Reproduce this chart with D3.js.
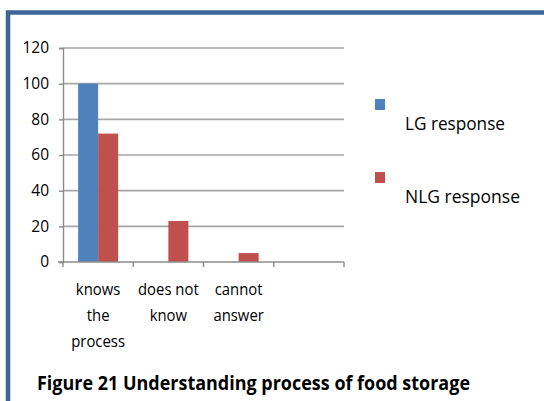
<!DOCTYPE html>
<html>
<head>
<meta charset="utf-8">
<script src="https://cdn.jsdelivr.net/npm/d3@7"></script>
<style>
  body { margin: 0; background: #fff; }
  text { font-family: "Open Sans", "Noto Sans", sans-serif; fill: #000; }
</style>
</head>
<body>
<div id="chart"></div>
<script>
// data
var categories = ["knows the process", "does not know", "cannot answer", ""];
var catLines = [["knows", "the", "process"], ["does not", "know"], ["cannot", "answer"], []];
var seriesNames = ["LG response", "NLG response"];
var lgValues = [100, null, null, null];
var nlgValues = [72, 23, 5, null];
var yTicks = [0, 20, 40, 60, 80, 100, 120];
var colors = ["#4f81bd", "#c0504d"];

var all_width = 544, all_height = 401;
var margin = {top: 48, left: 63, plotW: 281, plotH: 214};

var svg = d3.select("#chart").append("svg")
  .attr("width", all_width)
  .attr("height", all_height);

// frame
svg.append("path")
  .attr("d", "M8," + all_height + " L8,12.5 L" + all_width + ",12.5")
  .attr("fill", "none")
  .attr("stroke", "#3d6598")
  .attr("stroke-width", 4.5);

var g = svg.append("g")
  .attr("transform", "translate(" + margin.left + "," + margin.top + ")");

var x = d3.scaleBand().domain(categories.map(function(d, i) { return i; }))
  .range([0, margin.plotW]).paddingInner(0).paddingOuter(0);
var y = d3.scaleLinear().domain([0, 120]).range([margin.plotH, 0]);

// gridlines
g.selectAll(".grid").data(yTicks.filter(function(d) { return d > 0; }))
  .enter().append("line")
    .attr("x1", 0).attr("x2", margin.plotW)
    .attr("y1", function(d) { return y(d); })
    .attr("y2", function(d) { return y(d); })
    .attr("stroke", "#a6a6a6")
    .attr("stroke-width", 1.6);

// y axis
var yAxis = g.append("g")
  .call(d3.axisLeft(y).tickValues(yTicks).tickSize(4).tickPadding(10));
yAxis.selectAll("path, line").attr("stroke", "#8c8c8c").attr("stroke-width", 1.4);
yAxis.selectAll("text").style("font-size", "15.5px").attr("fill", "#000")
  .style("font-family", "'Open Sans', sans-serif");

// bars
var barW = 20;
var series = [lgValues, nlgValues];
series.forEach(function(vals, s) {
  g.selectAll(".bar" + s).data(vals.map(function(v, i) { return {i: i, v: v}; }).filter(function(d) { return d.v != null; }))
    .enter().append("rect")
      .attr("x", function(d) { return x(d.i) + x.bandwidth() / 2 - barW + s * barW; })
      .attr("width", barW)
      .attr("y", function(d) { return y(d.v); })
      .attr("height", function(d) { return y(0) - y(d.v); })
      .attr("fill", colors[s]);
});

// x axis
var xAxisG = g.append("g").attr("transform", "translate(0," + margin.plotH + ")");
xAxisG.append("line").attr("x1", -5).attr("x2", margin.plotW)
  .attr("stroke", "#8c8c8c").attr("stroke-width", 1.4);
xAxisG.selectAll(".tick").data(d3.range(categories.length + 1))
  .enter().append("line")
    .attr("x1", function(d) { return d * x.step(); })
    .attr("x2", function(d) { return d * x.step(); })
    .attr("y1", 0).attr("y2", 5)
    .attr("stroke", "#8c8c8c").attr("stroke-width", 1.4);

// category labels
catLines.forEach(function(lines, i) {
  lines.forEach(function(l, j) {
    xAxisG.append("text")
      .attr("x", x(i) + x.bandwidth() / 2)
      .attr("y", 33 + j * 26)
      .attr("text-anchor", "middle")
      .style("font-size", "16px")
      .attr("transform", "translate(" + (x(i) + x.bandwidth() / 2) + ",0) scale(0.93,1) translate(" + (-(x(i) + x.bandwidth() / 2)) + ",0)")
      .text(l);
  });
});

// legend
var legY = [99, 172];
var legLen = [100, 115];
seriesNames.forEach(function(name, s) {
  svg.append("rect").attr("x", 375).attr("y", legY[s]).attr("width", 10).attr("height", 11)
    .attr("fill", colors[s]);
  svg.append("text").attr("x", 405).attr("y", legY[s] + 31)
    .style("font-size", "19px")
    .attr("textLength", legLen[s]).attr("lengthAdjust", "spacingAndGlyphs")
    .text(name);
});

// caption
svg.append("text")
  .attr("x", 37).attr("y", 390)
  .style("font-size", "19px").style("font-weight", "bold")
  .attr("textLength", 433).attr("lengthAdjust", "spacingAndGlyphs")
  .text("Figure 21 Understanding process of food storage");
</script>
</body>
</html>
